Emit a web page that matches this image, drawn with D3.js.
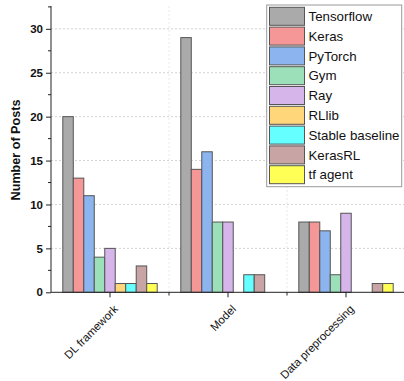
<!DOCTYPE html>
<html><head><meta charset="utf-8">
<script src="https://cdn.jsdelivr.net/npm/d3@7"></script>
<style>body{margin:0;background:#fff}svg{display:block}</style>
</head><body>
<script>
const categories = ["DL framework", "Model", "Data preprocessing"];
const seriesNames = ["Tensorflow","Keras","PyTorch","Gym","Ray","RLlib","Stable baseline","KerasRL","tf agent"];
const seriesColors = ["#aaaaaa","#f59797","#8cb5ef","#9ce0ba","#d5b5ea","#ffd67a","#66ffff","#c9a4a4","#ffff55"];
const dlFramework = [20,13,11,4,5,1,1,3,1];
const model = [29,14,16,8,8,0,2,2,0];
const dataPreprocessing = [8,8,7,2,9,0,0,1,1];
const yTicks = [0,5,10,15,20,25,30];
const values = [dlFramework, model, dataPreprocessing];

const W=404,H=381;
const svg=d3.select("body").append("svg").attr("width",W).attr("height",H);
const x0=d3.scaleBand().domain(categories).range([51,405]).padding(0);
// group occupies 80% of each band
const x1=d3.scaleBand().domain(seriesNames).range([x0.bandwidth()*0.1, x0.bandwidth()*0.9]).padding(0);
const y=d3.scaleLinear().domain([0,32.6]).range([292.3,6]);

// grid
const g=svg.append("g");
g.selectAll("line.hg").data(yTicks.filter(d=>d>0)).join("line")
 .attr("x1",51).attr("x2",405).attr("y1",d=>y(d)).attr("y2",d=>y(d))
 .attr("stroke","#c8c8c8").attr("stroke-width",0.8).attr("stroke-dasharray","2,2");
g.selectAll("line.vg").data(categories.slice(1)).join("line")
 .attr("x1",d=>x0(d)).attr("x2",d=>x0(d)).attr("y1",6).attr("y2",292)
 .attr("stroke","#e2e2e2").attr("stroke-width",0.8).attr("stroke-dasharray","2,2");

// bars
categories.forEach((c,ci)=>{
  svg.append("g").selectAll("rect").data(values[ci].map((v,i)=>({v,i}))).join("rect")
   .filter(d=>d.v>0)
   .attr("x",d=>x0(c)+x1(seriesNames[d.i]))
   .attr("width",x1.bandwidth())
   .attr("y",d=>y(d.v)).attr("height",d=>y(0)-y(d.v))
   .attr("fill",d=>seriesColors[d.i]).attr("stroke","#555").attr("stroke-width",1);
});

// y axis
const ya=svg.append("g").attr("transform","translate(51,0)")
 .call(d3.axisLeft(y).tickValues(yTicks).tickSize(5).tickPadding(3));
ya.select(".domain").attr("d","M0,6V292.3").attr("stroke","#222");
ya.selectAll("text").attr("font-family","Liberation Sans, Arial, sans-serif").attr("font-size","11.5px").attr("font-weight","bold").attr("fill","#111");
ya.selectAll(".tick line").attr("stroke","#222");
svg.append("g").selectAll("line").data(d3.range(2.5,33,5)).join("line")
 .attr("x1",48).attr("x2",51).attr("y1",d=>y(d)).attr("y2",d=>y(d)).attr("stroke","#222");

// x axis
const xa=svg.append("g").attr("transform","translate(0,292.3)")
 .call(d3.axisBottom(x0).tickSize(5).tickFormat(""));
xa.select(".domain").attr("d","M51,0H405").attr("stroke","#222");
xa.selectAll(".tick line").attr("stroke","#222");
svg.append("g").selectAll("line").data(categories.slice(1)).join("line")
 .attr("x1",d=>x0(d)).attr("x2",d=>x0(d)).attr("y1",292.3).attr("y2",295.5).attr("stroke","#222");
svg.append("g").selectAll("text").data(categories).join("text")
 .attr("transform",d=>`translate(${x0(d)+x0.bandwidth()/2+6},${307}) rotate(-45)`)
 .attr("text-anchor","end").attr("dy","0.35em")
 .attr("font-family","Liberation Sans, Arial, sans-serif").attr("font-size","11.4px").attr("fill","#111")
 .text(d=>d);

// y label
svg.append("text").attr("transform","translate(20,150) rotate(-90)")
 .attr("text-anchor","middle").attr("font-family","Liberation Sans, Arial, sans-serif")
 .attr("font-size","12.6px").attr("font-weight","bold").attr("fill","#111").text("Number of Posts");

// legend
const lg=svg.append("g");
lg.append("rect").attr("x",266.7).attr("y",5).attr("width",135).attr("height",181.7)
 .attr("fill","#fff").attr("stroke","#999").attr("stroke-width",1);
const li=lg.selectAll("g.item").data(seriesNames).join("g")
 .attr("transform",(d,i)=>`translate(269.5,${7.3+i*19.8})`);
li.append("rect").attr("width",35).attr("height",18)
 .attr("fill",(d,i)=>seriesColors[i]).attr("stroke","#555").attr("stroke-width",1);
li.append("text").attr("x",39).attr("y",9).attr("dy","0.35em")
 .attr("font-family","Liberation Sans, Arial, sans-serif").attr("font-size","13.3px").attr("fill","#111")
 .text(d=>d);
</script>
</body></html>
